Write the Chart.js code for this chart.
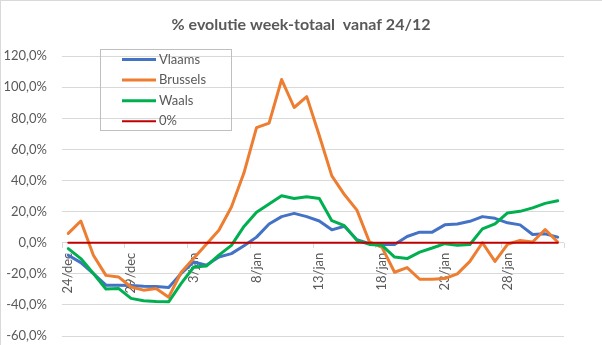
<!DOCTYPE html>
<html>
<head>
<meta charset="utf-8">
<script src="https://cdn.jsdelivr.net/npm/chart.js@4.4.1/dist/chart.umd.min.js"></script>
<style>
html, body { margin: 0; padding: 0; background: #fff; }
canvas { display: block; }
</style>
</head>
<body>
<canvas id="chartCanvas" width="602" height="345"></canvas>
<script>
// dagen (categorieën)
const dagen = ["24/dec","25/dec","26/dec","27/dec","28/dec","29/dec","30/dec","31/dec",
  "1/jan","2/jan","3/jan","4/jan","5/jan","6/jan","7/jan","8/jan","9/jan","10/jan",
  "11/jan","12/jan","13/jan","14/jan","15/jan","16/jan","17/jan","18/jan","19/jan","20/jan",
  "21/jan","22/jan","23/jan","24/jan","25/jan","26/jan","27/jan","28/jan","29/jan","30/jan",
  "31/jan","1/feb"];

// % evolutie per gewest
const vlaams = [-8, -12.8, -19.8, -27.3, -27.3, -27.5, -28, -28.2, -28.8, -19.8,
  -12.4, -14.5, -9.2, -7, -2, 3.6, 12, 16.8, 18.9, 16.8,
  14, 8.3, 10.6, 1.9, -0.6, -1.1, -1.1, 4, 6.8, 6.8,
  11.5, 12.1, 13.8, 16.8, 15.7, 12.8, 11.5, 5.3, 5.7, 3.6];
const brussels = [6, 14, -8, -21, -22, -28.5, -30.5, -29.5, -35, -19,
  -10, -1, 8, 23, 45, 74, 77, 105, 87, 94,
  69, 43, 31, 21, 0.5, -3, -19, -16, -23.5, -23.5,
  -23, -20, -12, 0, -12, -1, 1.5, 0.5, 8.5, 0.5];
const waals = [-3.8, -10.2, -19.8, -29.8, -29.4, -35.8, -37.3, -37.8, -38, -26.2,
  -15.6, -15, -8, -1.7, 10.5, 19.6, 24.9, 30.2, 28.5, 29.6,
  28.5, 14.2, 11, 1.5, -1.1, -1.7, -9.2, -10.2, -6, -3.4,
  -0.6, -1.7, -1.1, 8.9, 12.1, 19.2, 20.2, 22.4, 25.3, 27];
const nul = [0,0,0,0,0,0,0,0,0,0, 0,0,0,0,0,0,0,0,0,0,
  0,0,0,0,0,0,0,0,0,0, 0,0,0,0,0,0,0,0,0,0];

const yMin = -60, yMax = 120, yStap = 20;

const grijs = '#595959';
const lijnGrijs = '#d9d9d9';
const lettertype = 'Lato, "Open Sans", sans-serif';

// legende in een kader, zoals in Excel
const kaderLegende = {
  id: 'kaderLegende',
  afterDraw(chart) {
    const c = chart.ctx;
    c.save();
    c.strokeStyle = '#bfbfbf';
    c.lineWidth = 1;
    c.strokeRect(100.5, 49.5, 131, 81);
    c.font = '13px ' + lettertype;
    c.textBaseline = 'middle';
    c.fillStyle = grijs;
    chart.data.datasets.forEach((ds, i) => {
      const y = 59.5 + i * 20.6;
      c.beginPath();
      c.strokeStyle = ds.borderColor;
      c.lineWidth = ds.borderWidth;
      c.moveTo(122, y);
      c.lineTo(156, y);
      c.stroke();
      c.fillText(ds.label, 159, y);
    });
    // rand van de grafiek
    c.strokeStyle = lijnGrijs;
    c.lineWidth = 1;
    c.strokeRect(0.5, 0.5, 602, 345);
    c.restore();
  }
};

const ctx = document.getElementById('chartCanvas').getContext('2d');
new Chart(ctx, {
  type: 'line',
  data: {
    labels: dagen,
    datasets: [
      { label: 'Vlaams', data: vlaams, borderColor: '#4472C4', borderWidth: 3, order: 4 },
      { label: 'Brussels', data: brussels, borderColor: '#ED7D31', borderWidth: 3, order: 3 },
      { label: 'Waals', data: waals, borderColor: '#00B050', borderWidth: 3, order: 2 },
      { label: '0%', data: nul, borderColor: '#C00000', borderWidth: 2, order: 1 }
    ]
  },
  options: {
    responsive: false,
    animation: false,
    layout: { padding: { top: 0, right: 0, bottom: 9, left: 0 } },
    elements: {
      point: { radius: 0, hoverRadius: 0 },
      line: { tension: 0, borderJoinStyle: 'round', borderCapStyle: 'round', fill: false }
    },
    plugins: {
      legend: { display: false },
      tooltip: { enabled: false },
      title: {
        display: true,
        text: '% evolutie week-totaal  vanaf 24/12',
        color: grijs,
        font: { family: lettertype, size: 16, weight: 'bold' },
        padding: { top: 15, bottom: 22 }
      }
    },
    scales: {
      x: {
        type: 'category',
        offset: true,
        position: { y: 0 },
        border: { display: false },
        grid: {
          offset: true,
          drawOnChartArea: false,
          drawTicks: true,
          tickLength: 5,
          color: c => (c.type !== 'tick' || c.index % 5 === 0) ? lijnGrijs : 'rgba(0,0,0,0)'
        },
        ticks: {
          autoSkip: false,
          minRotation: 90,
          maxRotation: 90,
          padding: 5,
          color: grijs,
          font: { family: lettertype, size: 13 },
          callback: (v, i) => i % 5 === 0 ? dagen[i] : ''
        },
        afterFit: s => { s.height = 0; s.paddingTop = 0; s.paddingBottom = 0; }
      },
      y: {
        min: yMin,
        max: yMax,
        border: { display: false },
        grid: { color: lijnGrijs, lineWidth: 1, drawTicks: false },
        ticks: {
          stepSize: yStap,
          padding: 15,
          color: grijs,
          font: { family: lettertype, size: 13 },
          callback: v => v.toFixed(1).replace('.', ',') + '%'
        },
        afterFit: s => { s.width = 62; s.paddingTop = 0; s.paddingBottom = 0; }
      },
      // lege ruimte rechts van de grafiek
      rechts: {
        type: 'linear',
        position: 'right',
        min: yMin,
        max: yMax,
        border: { display: false },
        grid: { display: false },
        ticks: { display: false },
        afterFit: s => { s.width = 38; s.paddingTop = 0; s.paddingBottom = 0; }
      }
    }
  },
  plugins: [kaderLegende]
});
</script>
</body>
</html>
